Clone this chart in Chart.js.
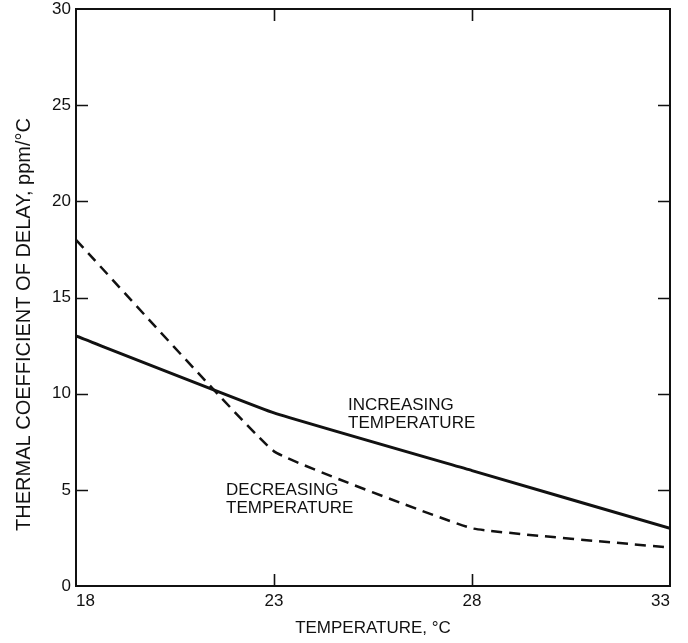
<!DOCTYPE html>
<html>
<head>
<meta charset="utf-8">
<script src="https://cdn.jsdelivr.net/npm/chart.js@4.4.1/dist/chart.umd.min.js"></script>
<style>
  html, body { margin: 0; padding: 0; background: #fff; }
  #wrap { width: 688px; height: 643px; position: relative; }
</style>
</head>
<body>
<div id="wrap"><canvas id="delayChart"></canvas></div>
<script>
// --- data ---
const temps = [18, 23, 28, 33];
const increasingTemp = [13, 9, 6, 3];
const decreasingTemp = [18, 7, 3, 2];
const xTicks = [18, 23, 28, 33];
const yTicks = [0, 5, 10, 15, 20, 25, 30];
// curve labels: [x, y of first baseline, lines]
const curveLabels = [
    [24.87, 9.17, ['INCREASING', 'TEMPERATURE']],
    [21.79, 4.74, ['DECREASING', 'TEMPERATURE']]
];
const yTitle = 'THERMAL COEFFICIENT OF DELAY, ppm/°C';

const FONT = '"Liberation Sans", Arial, Helvetica, sans-serif';
const INK = '#111';

// frame, inward ticks on all four sides, curve labels, y title
const framePlugin = {
    id: 'frame',
    afterDatasetsDraw(chart) {
        const { ctx, chartArea: a, scales: { x, y } } = chart;
        const len = 12;
        ctx.save();
        ctx.strokeStyle = INK;
        ctx.lineWidth = 1.6;
        xTicks.slice(1, -1).forEach(v => {
            const px = Math.round(x.getPixelForValue(v)) + 0.5;
            ctx.beginPath();
            ctx.moveTo(px, a.bottom); ctx.lineTo(px, a.bottom - len);
            ctx.moveTo(px, a.top); ctx.lineTo(px, a.top + len);
            ctx.stroke();
        });
        yTicks.slice(1, -1).forEach(v => {
            const py = Math.round(y.getPixelForValue(v)) + 0.5;
            ctx.beginPath();
            ctx.moveTo(a.left, py); ctx.lineTo(a.left + len, py);
            ctx.moveTo(a.right, py); ctx.lineTo(a.right - len, py);
            ctx.stroke();
        });
        ctx.lineWidth = 2;
        ctx.strokeRect(a.left, a.top, a.right - a.left, a.bottom - a.top);

        ctx.fillStyle = INK;
        ctx.font = '17px ' + FONT;
        ctx.textAlign = 'left';
        ctx.textBaseline = 'alphabetic';
        curveLabels.forEach(([lx, ly, lines]) => {
            const px = x.getPixelForValue(lx);
            const py = y.getPixelForValue(ly);
            lines.forEach((t, i) => ctx.fillText(t, px, py + i * 18));
        });

        // y title sits a little below the axis middle
        ctx.font = '20px ' + FONT;
        ctx.textAlign = 'center';
        ctx.textBaseline = 'middle';
        ctx.translate(24, (a.top + a.bottom) / 2 + 27);
        ctx.rotate(-Math.PI / 2);
        ctx.fillText(yTitle, 0, 0);
        ctx.restore();
    }
};

new Chart(document.getElementById('delayChart'), {
    type: 'line',
    data: {
        datasets: [
            {
                label: 'Increasing temperature',
                data: temps.map((t, i) => ({ x: t, y: increasingTemp[i] })),
                borderColor: INK, borderWidth: 3, pointRadius: 0, tension: 0.08, fill: false
            },
            {
                label: 'Decreasing temperature',
                data: temps.map((t, i) => ({ x: t, y: decreasingTemp[i] })),
                borderColor: INK, borderWidth: 2.5, borderDash: [11, 7], pointRadius: 0, tension: 0.08, fill: false
            }
        ]
    },
    options: {
        responsive: true, maintainAspectRatio: false, animation: false,
        layout: { padding: { left: 0, right: 18, top: 9, bottom: 0 } },
        plugins: { legend: { display: false }, tooltip: { enabled: false } },
        scales: {
            x: {
                type: 'linear', min: 18, max: 33,
                afterBuildTicks: s => { s.ticks = xTicks.map(v => ({ value: v })); },
                afterFit: s => { s.height = 57; s.paddingLeft = 0; s.paddingRight = 0; },
                grid: { display: false, drawTicks: false },
                border: { display: false },
                ticks: { color: INK, padding: 5, align: 'inner', font: { family: FONT, size: 17 } },
                title: {
                    display: true, text: 'TEMPERATURE, °C', color: INK,
                    font: { family: FONT, size: 17 }, padding: { top: 6, bottom: 4 }
                }
            },
            y: {
                min: 0, max: 30,
                afterBuildTicks: s => { s.ticks = yTicks.map(v => ({ value: v })); },
                afterFit: s => { s.width = 76; s.paddingTop = 0; s.paddingBottom = 0; },
                grid: { display: false, drawTicks: false },
                border: { display: false },
                ticks: { color: INK, padding: 5, font: { family: FONT, size: 17 } },
                title: { display: false }
            }
        }
    },
    plugins: [framePlugin]
});
</script>
</body>
</html>
